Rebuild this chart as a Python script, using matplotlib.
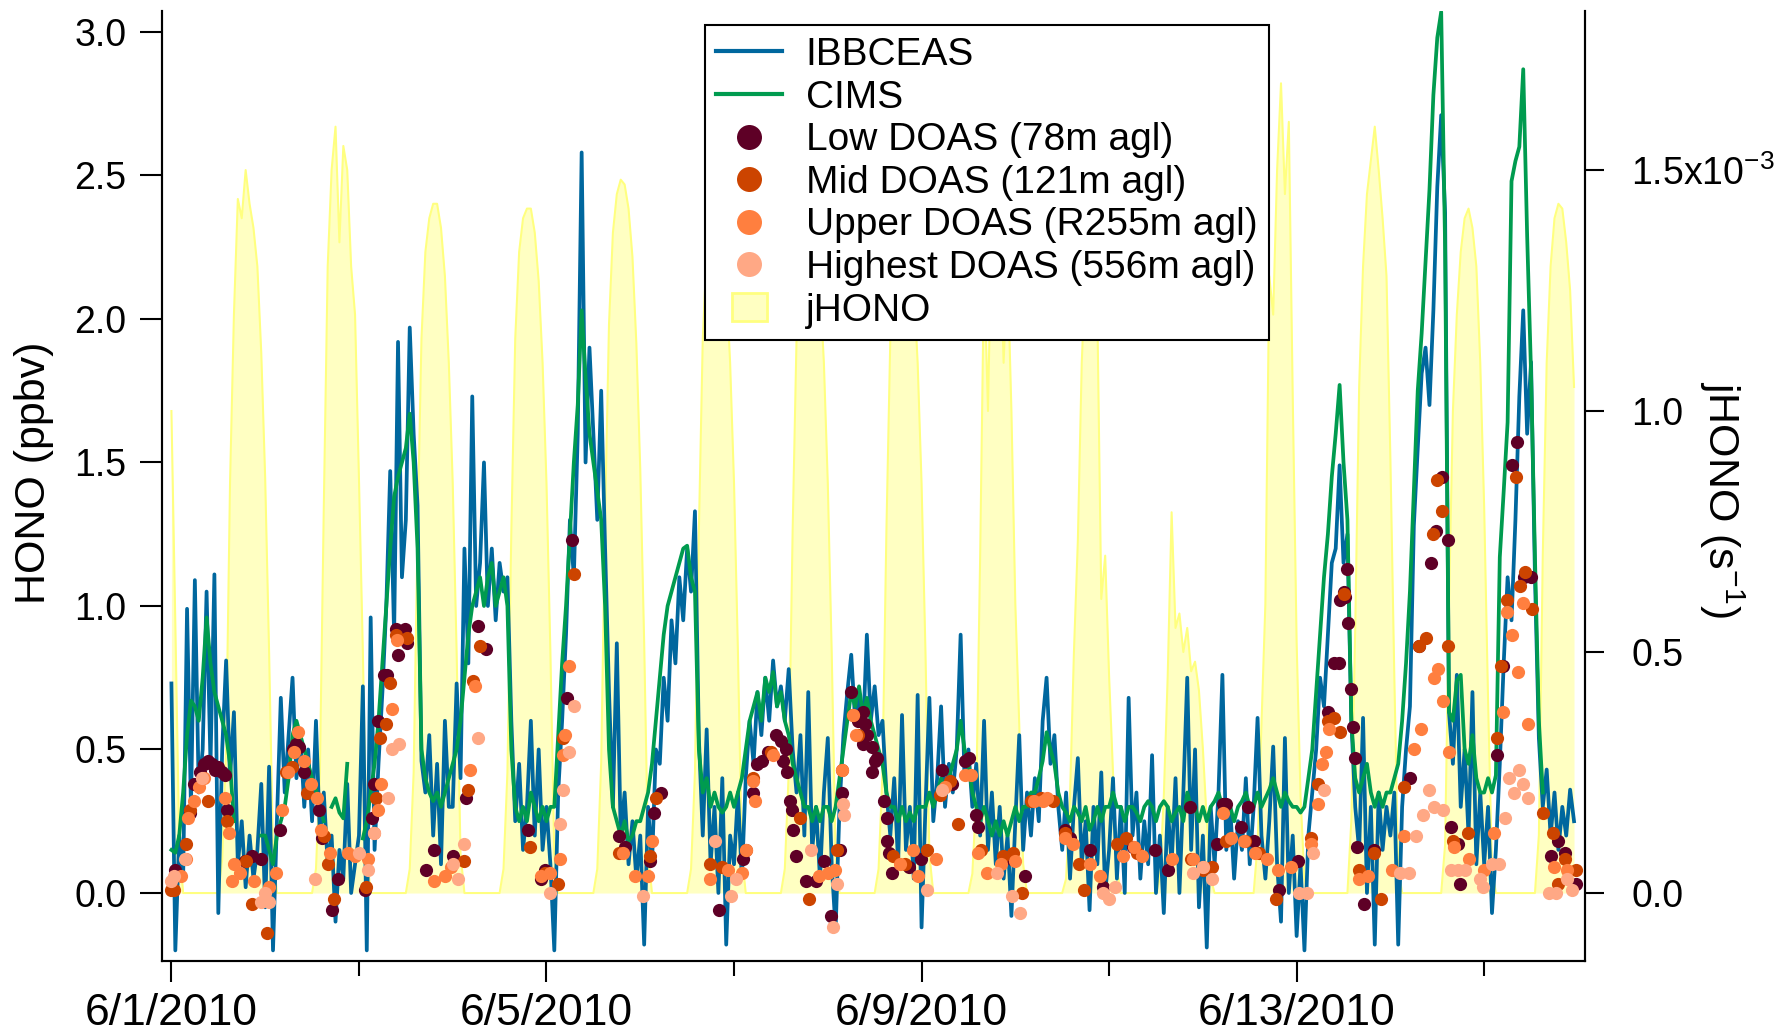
import numpy as np
import matplotlib
matplotlib.use("Agg")
import matplotlib.pyplot as plt
from matplotlib.lines import Line2D
from matplotlib.patches import Patch, Rectangle
from matplotlib.legend_handler import HandlerPatch
from matplotlib.ticker import FormatStrFormatter

plt.rcParams['font.family'] = ['Liberation Sans', 'DejaVu Sans']
plt.rcParams['mathtext.fontset'] = 'custom'
plt.rcParams['mathtext.rm'] = 'Liberation Sans'
plt.rcParams['mathtext.it'] = 'Liberation Sans'

nan = np.nan

# hourly IBBCEAS HONO (ppbv), one row per day starting 6/1/2010 00:00
ibbceas = [
    [0.73, -0.2, 0.2, 0.05, 0.99, 0.3, 1.09, 0.35, 0.5, 1.05, 0.45, 1.11, -0.07, 0.5, 0.81, 0.4, 0.63, 0.1, 0.25, 0.02, 0.2, 0.05, 0.15, 0.38],
    [-0.05, 0.44, -0.2, 0.25, 0.68, 0.35, 0.55, 0.75, 0.4, 0.55, 0.3, 0.5, 0.25, 0.6, 0.2, 0.35, 0.1, 0.2, -0.1, 0.15, 0.05, 0.38, 0.0, 0.1],
    [0.2, 0.72, -0.2, 0.96, 0.15, 0.45, 0.7, 1.0, 1.47, 0.9, 1.92, 1.1, 1.3, 1.97, 1.6, 1.35, 0.46, 0.35, 0.55, 0.2, 0.45, 0.1, 0.6, 0.3],
    [0.3, 0.73, 0.4, 1.2, 0.8, 1.73, 1.0, 1.15, 1.5, 1.0, 1.2, 0.95, 1.15, 1.05, 1.1, 0.6, 0.25, 0.45, 0.15, 0.3, 0.6, 0.2, 0.5, 0.15],
    [0.3, 0.1, -0.2, 0.35, 0.6, 0.9, 1.3, 1.1, 1.6, 2.58, 1.5, 1.9, 1.6, 1.3, 1.75, 1.2, 0.7, 0.3, 0.87, 0.2, 0.35, 0.1, 0.25, 0.05],
    [0.2, -0.18, 0.3, 0.1, 0.5, 0.45, 0.75, 0.6, 0.95, 0.8, 1.1, 0.95, 1.2, 1.05, 1.33, 0.54, 0.2, 0.57, 0.1, 0.3, 0.0, 0.4, -0.18, 0.2],
    [0.1, 0.35, 0.05, 0.4, 0.6, 0.45, 0.7, 0.55, 0.75, 0.6, 0.81, 0.65, 0.72, 0.6, 0.78, 0.5, 0.35, 0.55, 0.2, 0.7, 0.15, 0.3, 0.05, 0.35],
    [0.54, 0.1, -0.13, 0.3, 0.55, 0.7, 0.83, 0.6, 0.7, 0.55, 0.9, 0.6, 0.72, 0.55, 0.6, 0.35, 0.2, 0.4, 0.1, 0.62, 0.15, 0.3, 0.05, 0.69],
    [-0.12, 0.3, 0.68, 0.25, 0.4, 0.65, 0.3, 0.45, 0.35, 0.5, 0.9, 0.4, 0.5, 0.3, 0.45, 0.2, 0.6, 0.15, 0.35, 0.1, 0.3, 0.05, 0.2, -0.08],
    [0.25, 0.55, 0.15, 0.35, 0.2, 0.4, 0.25, 0.6, 0.75, 0.45, 0.55, 0.3, 0.15, 0.35, 0.05, 0.3, 0.47, 0.1, 0.25, -0.06, 0.3, 0.1, 0.42, 0.0],
    [0.15, 0.4, 0.05, 0.3, 0.0, 0.68, 0.2, 0.35, 0.05, 0.25, 0.1, 0.48, 0.0, 0.2, -0.07, 0.3, 0.1, 0.4, 0.0, 0.35, 0.75, 0.15, 0.5, -0.05],
    [0.2, -0.19, 0.3, 0.1, 0.35, 0.76, 0.15, 0.3, 0.05, 0.25, 0.15, 0.4, 0.1, 0.3, 0.61, 0.2, 0.05, 0.25, 0.51, 0.1, -0.1, 0.54, 0.0, 0.2],
    [-0.15, 0.1, -0.2, 0.2, 0.35, 0.5, 0.75, 0.65, 0.9, 1.15, 1.2, 1.49, 1.15, 1.25, 0.6, 0.3, 0.15, 0.61, 0.0, 0.3, -0.18, 0.35, 0.15, 0.3],
    [0.2, 0.35, -0.18, 0.3, 0.5, 0.65, 1.28, 1.55, 1.81, 1.9, 1.7, 2.03, 2.46, 2.71, 2.37, 0.63, 0.45, 0.76, 0.3, 0.5, 0.2, 0.7, 0.1, 0.35],
    [0.1, 0.3, -0.07, 0.15, 0.45, 0.8, 1.1, 0.95, 1.3, 1.73, 2.03, 1.6, 1.85, 1.1, 0.54, 0.3, 0.43, 0.2, 0.35, 0.15, 0.3, 0.2, 0.36, 0.25],
]

# hourly CIMS HONO (ppbv)
cims = [
    [0.15, 0.14, 0.2, 0.35, 0.55, 0.67, 0.65, 0.6, 0.75, 0.96, 0.8, 0.7, 0.65, 0.6, 0.55, 0.45, 0.25, nan, nan, nan, nan, nan, nan, 0.2],
    [0.2, 0.15, 0.1, 0.2, 0.25, 0.3, 0.4, 0.55, 0.6, 0.55, 0.5, 0.45, 0.4, 0.36, 0.3, 0.25, nan, 0.3, 0.33, 0.28, 0.26, 0.45, nan, nan],
    [nan, 0.19, 0.25, 0.35, 0.45, 0.6, 0.8, 1.0, 1.2, 1.38, 1.45, 1.5, 1.55, 1.67, 1.5, 1.2, 0.5, 0.4, 0.35, 0.32, 0.35, 0.3, 0.35, 0.4],
    [0.45, 0.5, 0.6, 0.75, 0.9, 1.0, 1.05, 1.1, 1.0, 1.1, 1.15, 1.0, 1.05, 1.1, 1.0, 0.5, 0.3, 0.25, 0.3, 0.25, 0.35, 0.3, 0.25, 0.3],
    [0.25, 0.3, 0.3, 0.55, 0.8, 1.0, 1.25, 1.5, 1.7, 2.03, 1.8, 1.6, 1.5, 1.4, 1.3, 1.0, 0.5, 0.3, 0.25, 0.2, 0.25, 0.18, 0.2, 0.25],
    [0.25, 0.3, 0.35, 0.45, 0.6, 0.75, 0.9, 1.0, 1.05, 1.1, 1.15, 1.2, 1.21, 1.1, 1.05, 0.5, 0.35, 0.4, 0.3, 0.35, 0.3, 0.28, 0.3, 0.35],
    [0.3, 0.35, 0.4, 0.5, 0.6, 0.65, 0.7, 0.6, 0.75, 0.7, 0.77, 0.65, 0.7, 0.6, 0.55, 0.45, 0.4, 0.35, 0.3, 0.3, 0.25, 0.3, 0.25, 0.3],
    [0.3, 0.25, 0.3, 0.4, 0.5, 0.6, 0.7, 0.65, 0.72, 0.62, 0.68, 0.6, 0.55, 0.5, 0.45, 0.35, 0.3, 0.3, 0.25, 0.3, 0.25, 0.28, 0.25, 0.3],
    [0.3, 0.3, 0.35, 0.3, 0.35, 0.4, 0.35, 0.4, 0.45, 0.5, 0.6, 0.5, 0.45, 0.35, 0.3, 0.25, 0.3, 0.25, 0.2, 0.25, 0.2, 0.25, 0.2, 0.25],
    [0.3, 0.25, 0.3, 0.3, 0.35, 0.35, 0.4, 0.46, 0.56, 0.5, 0.45, 0.35, 0.3, 0.28, 0.25, 0.3, 0.28, 0.25, 0.3, 0.22, 0.25, 0.3, 0.25, 0.3],
    [0.3, 0.35, 0.3, 0.3, 0.25, 0.3, 0.3, 0.28, 0.25, 0.3, 0.32, 0.3, 0.25, 0.3, 0.32, 0.3, 0.25, 0.28, 0.3, 0.25, 0.35, 0.3, 0.3, 0.25],
    [0.3, 0.25, 0.3, 0.32, 0.35, 0.3, 0.28, 0.3, 0.25, 0.3, 0.32, 0.35, 0.3, 0.3, 0.35, 0.3, 0.33, 0.36, 0.4, 0.35, 0.3, 0.35, 0.32, 0.3],
    [0.3, 0.28, 0.3, 0.4, 0.5, 0.7, 0.9, 1.1, 1.25, 1.45, 1.6, 1.77, 1.5, 1.3, 0.6, 0.4, 0.35, 0.4, 0.45, 0.35, 0.3, 0.35, 0.3, 0.35],
    [0.35, 0.4, 0.45, 0.6, 0.8, 1.05, 1.4, 1.75, 1.95, 2.2, 2.45, 2.78, 2.98, 3.07, 2.25, 0.63, 0.6, 0.74, 0.76, 0.5, 0.45, 0.55, 0.4, 0.35],
    [0.35, 0.4, 0.35, 0.41, 1.17, 1.4, 1.64, 2.48, 2.55, 2.6, 2.87, 2.29, 1.81, 1.17, 0.6, 0.35, nan, nan, nan, nan, nan, nan, nan, nan],
]

# hourly jHONO (1e-3 s^-1)
jhono = [
    [1.0, 0.56, 0.1, 0, 0, 0, 0, 0, 0, 0, 0, 0, 0, 0.07, 0.3, 0.85, 1.2, 1.44, 1.4, 1.5, 1.43, 1.38, 1.3, 1.12],
    [0.86, 0.5, 0.09, 0, 0, 0, 0, 0, 0, 0, 0, 0, 0, 0.05, 0.25, 0.8, 1.3, 1.5, 1.59, 1.35, 1.55, 1.5, 1.3, 1.2],
    [0.86, 0.5, 0.08, 0, 0, 0, 0, 0, 0, 0, 0, 0, 0, 0.05, 0.25, 0.75, 1.15, 1.33, 1.4, 1.43, 1.43, 1.38, 1.28, 1.1],
    [0.85, 0.5, 0.08, 0, 0, 0, 0, 0, 0, 0, 0, 0, 0, 0.05, 0.25, 0.75, 1.15, 1.33, 1.4, 1.42, 1.42, 1.37, 1.27, 1.1],
    [0.85, 0.5, 0.08, 0, 0, 0, 0, 0, 0, 0, 0, 0, 0, 0.05, 0.27, 0.78, 1.18, 1.37, 1.45, 1.48, 1.47, 1.42, 1.32, 1.14],
    [0.88, 0.52, 0.08, 0, 0, 0, 0, 0, 0, 0, 0, 0, 0, 0.05, 0.25, 0.75, 1.15, 1.33, 1.4, 1.42, 1.42, 1.37, 1.27, 1.1],
    [0.85, 0.5, 0.08, 0, 0, 0, 0, 0, 0, 0, 0, 0, 0, 0.05, 0.25, 0.75, 1.15, 1.33, 1.4, 1.42, 1.41, 1.36, 1.26, 1.1],
    [0.85, 0.5, 0.08, 0, 0, 0, 0, 0, 0, 0, 0, 0, 0, 0.05, 0.25, 0.75, 1.15, 1.33, 1.4, 1.42, 1.41, 1.36, 1.26, 1.1],
    [0.85, 0.5, 0.08, 0, 0, 0, 0, 0, 0, 0, 0, 0, 0, 0.04, 0.2, 0.7, 1.3, 1.0, 1.42, 1.2, 1.4, 1.1, 1.3, 1.0],
    [0.6, 0.35, 0.06, 0, 0, 0, 0, 0, 0, 0, 0, 0, 0, 0.03, 0.2, 0.5, 0.73, 1.1, 1.3, 1.35, 1.3, 1.2, 0.61, 0.7],
    [0.45, 0.25, 0.05, 0, 0, 0, 0, 0, 0, 0, 0, 0, 0, 0.03, 0.2, 0.45, 0.79, 0.55, 0.58, 0.5, 0.55, 0.46, 0.48, 0.42],
    [0.3, 0.15, 0.03, 0, 0, 0, 0, 0, 0, 0, 0, 0, 0, 0.0, 0.1, 0.35, 0.6, 1.28, 1.2, 1.5, 1.68, 1.45, 1.6, 1.03],
    [0.52, 0.2, 0.03, 0, 0, 0, 0, 0, 0, 0, 0, 0, 0, 0.0, 0.15, 0.55, 1.05, 1.3, 1.45, 1.52, 1.59, 1.5, 1.4, 1.28],
    [0.9, 0.45, 0.05, 0, 0, 0, 0, 0, 0, 0, 0, 0, 0, 0.0, 0.1, 0.6, 1.0, 1.2, 1.33, 1.4, 1.42, 1.38, 1.3, 1.1],
    [0.8, 0.4, 0.05, 0, 0, 0, 0, 0, 0, 0, 0, 0, 0, 0.0, 0.12, 0.7, 1.1, 1.3, 1.4, 1.43, 1.42, 1.35, 1.25, 1.05],
]

# DOAS HONO: (day since 6/1 00:00, ppbv)
low_doas = [
    (0.04, 0.08), (0.2, 0.28), (0.245, 0.38), (0.31, 0.42), (0.35, 0.45), (0.39, 0.46), (0.43, 0.45),
    (0.47, 0.43), (0.5, 0.44), (0.54, 0.42), (0.57, 0.41), (0.59, 0.29), (0.78, 0.11), (0.86, 0.13),
    (0.96, 0.12), (1.16, 0.22), (1.3, 0.5), (1.33, 0.52), (1.36, 0.51), (1.41, 0.42), (1.57, 0.29),
    (1.61, 0.19), (1.71, -0.06), (1.78, 0.05), (2.06, 0.01), (2.14, 0.26), (2.16, 0.38), (2.2, 0.6),
    (2.27, 0.76), (2.3, 0.76), (2.39, 0.92), (2.42, 0.83), (2.45, 0.91), (2.49, 0.92), (2.51, 0.87),
    (2.71, 0.08), (2.8, 0.15), (3.0, 0.13), (3.14, 0.33), (3.27, 0.93), (3.35, 0.85), (3.8, 0.22),
    (3.94, 0.05), (3.98, 0.08), (4.22, 0.68), (4.27, 1.23), (4.77, 0.2), (4.84, 0.16), (5.1, 0.11),
    (5.15, 0.28), (5.22, 0.35), (5.84, -0.06), (6.1, 0.12), (6.2, 0.35), (6.25, 0.45), (6.3, 0.46),
    (6.36, 0.49), (6.45, 0.55), (6.5, 0.53), (6.55, 0.5), (6.52, 0.46), (6.56, 0.42), (6.6, 0.32),
    (6.62, 0.29), (6.63, 0.22), (6.66, 0.13), (6.77, 0.04), (6.87, 0.04), (6.96, 0.11), (7.03, -0.08),
    (7.13, 0.15), (7.15, 0.35), (7.25, 0.7), (7.32, 0.6), (7.38, 0.63), (7.4, 0.59), (7.42, 0.55),
    (7.38, 0.52), (7.47, 0.51), (7.5, 0.46), (7.52, 0.47), (7.47, 0.42), (7.6, 0.32), (7.63, 0.26),
    (7.63, 0.18), (7.65, 0.14), (7.68, 0.07), (7.87, 0.09), (7.99, 0.12), (8.22, 0.43), (8.32, 0.38),
    (8.46, 0.46), (8.51, 0.47), (8.58, 0.27), (8.6, 0.23), (8.96, 0.12), (9.1, 0.06), (9.53, 0.22),
    (9.58, 0.19), (9.8, 0.15), (9.94, 0.02), (10.25, 0.16), (10.49, 0.15), (10.63, 0.08), (10.86, 0.3),
    (11.15, 0.17), (11.22, 0.31), (11.25, 0.31), (11.41, 0.23), (11.48, 0.3), (11.54, 0.18), (11.81, 0.01),
    (12.01, 0.11), (12.33, 0.63), (12.4, 0.8), (12.45, 0.8), (12.46, 1.02), (12.5, 1.05), (12.52, 1.03),
    (12.54, 1.13), (12.55, 0.94), (12.58, 0.71), (12.6, 0.58), (12.62, 0.47), (12.64, 0.16), (12.72, -0.04),
    (12.82, 0.15), (13.21, 0.4), (13.31, 0.86), (13.43, 1.15), (13.49, 1.26), (13.55, 1.45), (13.61, 1.23),
    (13.65, 0.23), (13.72, 0.17), (13.74, 0.03), (14.14, 0.48), (14.2, 0.79), (14.3, 1.49), (14.35, 1.57),
    (14.42, 1.1), (14.5, 1.1), (14.71, 0.13), (14.79, 0.18), (14.86, 0.14), (14.98, 0.03),
]

mid_doas = [
    (0.0, 0.01), (0.03, 0.01), (0.16, 0.17), (0.2, 0.29), (0.39, 0.32), (0.59, 0.25), (0.8, 0.11),
    (0.86, -0.04), (1.02, -0.14), (1.22, 0.42), (1.29, 0.44), (1.45, 0.35), (1.63, 0.2), (1.67, 0.1),
    (1.73, -0.02), (2.08, 0.02), (2.18, 0.33), (2.22, 0.54), (2.29, 0.59), (2.33, 0.73), (2.39, 0.9),
    (2.51, 0.89), (3.12, 0.11), (3.16, 0.36), (3.22, 0.74), (3.29, 0.86), (3.82, 0.16), (3.98, 0.07),
    (4.12, 0.03), (4.18, 0.54), (4.29, 1.11), (4.77, 0.14), (5.1, 0.13), (5.17, 0.33), (5.74, 0.1),
    (5.87, 0.09), (6.13, 0.15), (6.2, 0.4), (6.39, 0.49), (6.7, 0.26), (6.8, -0.02), (7.1, 0.15),
    (7.15, 0.43), (7.27, 0.62), (7.32, 0.55), (7.7, 0.13), (7.82, 0.1), (8.06, 0.15), (8.2, 0.34),
    (8.3, 0.39), (8.39, 0.24), (8.63, 0.15), (8.87, 0.13), (8.97, 0.14), (9.07, 0.0), (9.17, 0.32),
    (9.27, 0.33), (9.4, 0.32), (9.53, 0.21), (9.68, 0.1), (9.73, 0.01), (10.08, 0.17), (10.18, 0.19),
    (10.3, 0.14), (10.87, 0.12), (11.0, 0.08), (11.1, 0.09), (11.25, 0.18), (11.45, 0.18), (11.6, 0.14),
    (11.78, -0.02), (12.15, 0.19), (12.23, 0.38), (12.33, 0.6), (12.4, 0.61), (12.46, 0.56), (12.5, 1.04),
    (12.66, 0.08), (12.82, 0.14), (12.9, -0.02), (13.15, 0.37), (13.3, 0.86), (13.38, 0.89), (13.45, 1.25),
    (13.5, 1.44), (13.55, 1.33), (13.61, 0.86), (13.67, 0.18), (13.83, 0.21), (14.14, 0.54), (14.18, 0.79),
    (14.24, 1.02), (14.34, 1.45), (14.38, 1.07), (14.44, 1.12), (14.51, 0.99), (14.63, 0.28), (14.73, 0.21),
    (14.79, 0.03), (14.86, 0.12), (14.98, 0.08),
]

upper_doas = [
    (0.1, 0.06), (0.16, 0.12), (0.18, 0.26), (0.24, 0.32), (0.29, 0.37), (0.35, 0.4), (0.57, 0.33),
    (0.61, 0.21), (0.65, 0.04), (0.67, 0.1), (0.73, 0.07), (0.88, 0.04), (1.04, 0.02), (1.12, 0.07),
    (1.18, 0.29), (1.24, 0.42), (1.31, 0.49), (1.35, 0.56), (1.41, 0.46), (1.49, 0.38), (1.55, 0.33),
    (1.59, 0.22), (1.69, 0.14), (1.88, 0.14), (1.96, 0.13), (2.1, 0.12), (2.16, 0.21), (2.2, 0.29),
    (2.24, 0.38), (2.35, 0.64), (2.41, 0.88), (2.8, 0.04), (2.92, 0.06), (2.98, 0.09), (3.18, 0.43),
    (3.24, 0.72), (3.94, 0.06), (4.04, 0.07), (4.14, 0.12), (4.18, 0.48), (4.2, 0.55), (4.24, 0.79),
    (4.82, 0.14), (4.94, 0.06), (5.08, 0.06), (5.13, 0.18), (5.74, 0.05), (5.94, 0.08), (6.08, 0.07),
    (6.13, 0.15), (6.2, 0.39), (6.22, 0.32), (6.42, 0.48), (6.91, 0.06), (7.0, 0.07), (7.08, 0.08),
    (7.15, 0.43), (7.27, 0.62), (7.3, 0.55), (7.77, 0.1), (7.91, 0.15), (7.96, 0.06), (8.15, 0.12),
    (8.25, 0.37), (8.46, 0.41), (8.53, 0.41), (8.6, 0.14), (8.7, 0.07), (8.85, 0.1), (9.0, 0.11),
    (9.2, 0.32), (9.3, 0.32), (9.34, 0.33), (9.53, 0.19), (9.62, 0.17), (9.8, 0.1), (9.9, 0.06),
    (10.15, 0.13), (10.27, 0.16), (10.35, 0.13), (10.67, 0.12), (10.9, 0.12), (11.0, 0.09), (11.22, 0.28),
    (11.3, 0.19), (11.44, 0.18), (11.56, 0.14), (11.68, 0.12), (11.8, 0.08), (11.94, 0.09), (12.15, 0.17),
    (12.23, 0.31), (12.27, 0.45), (12.31, 0.49), (12.35, 0.57), (12.66, 0.05), (12.76, 0.06), (13.02, 0.08),
    (13.15, 0.2), (13.25, 0.5), (13.33, 0.57), (13.47, 0.75), (13.51, 0.78), (13.56, 0.67), (13.62, 0.49),
    (13.68, 0.16), (13.84, 0.12), (14.0, 0.08), (14.11, 0.21), (14.2, 0.63), (14.24, 0.98), (14.3, 0.9),
    (14.36, 0.77), (14.41, 1.01), (14.47, 0.59), (14.74, 0.09), (14.88, 0.08),
]

highest_doas = [
    (0.0, 0.04), (0.03, 0.06), (0.14, 0.12), (0.33, 0.4), (0.96, -0.03), (1.0, 0.0), (1.04, -0.03),
    (1.53, 0.05), (2.0, 0.14), (2.1, 0.08), (2.16, 0.21), (2.31, 0.33), (2.35, 0.5), (2.43, 0.52),
    (3.0, 0.1), (3.06, 0.05), (3.12, 0.17), (3.27, 0.54), (4.04, 0.0), (4.14, 0.24), (4.18, 0.36),
    (4.24, 0.49), (4.29, 0.65), (5.03, -0.01), (5.8, 0.18), (5.97, -0.01), (6.02, 0.05), (6.82, 0.15),
    (7.06, -0.12), (7.1, 0.03), (7.16, 0.31), (7.17, 0.27), (8.06, 0.01), (8.22, 0.36), (8.8, 0.07),
    (8.96, -0.01), (9.05, -0.07), (9.94, 0.0), (10.0, -0.02), (10.06, 0.02), (10.9, 0.07), (11.0, 0.09),
    (11.1, 0.05), (12.03, 0.0), (12.11, 0.0), (12.17, 0.14), (12.29, 0.36), (13.1, 0.07), (13.2, 0.07),
    (13.27, 0.2), (13.35, 0.27), (13.41, 0.36), (13.47, 0.3), (13.56, 0.29), (13.65, 0.08), (13.72, 0.08),
    (13.8, 0.08), (13.96, 0.05), (13.99, 0.02), (14.08, 0.1), (14.16, 0.1), (14.22, 0.26), (14.26, 0.4),
    (14.32, 0.35), (14.37, 0.43), (14.41, 0.38), (14.47, 0.33), (14.69, 0.0), (14.77, 0.0), (14.88, 0.05),
    (14.94, 0.01),
]

date_ticks = [0, 4, 8, 12]
date_labels = ['6/1/2010', '6/5/2010', '6/9/2010', '6/13/2010']
minor_date_ticks = [2, 6, 10, 14]

c_ibb = '#00679E'
c_cims = '#009B4F'
c_low = '#5E0026'
c_mid = '#CC4400'
c_up = '#FF7F3F'
c_hi = '#FFA885'
c_jfill = '#FFFFC2'
c_jline = '#FFFF80'

hours = np.arange(24 * len(ibbceas)) / 24.0
ibb = np.concatenate(ibbceas)
cim = np.concatenate(cims)
jh = np.concatenate(jhono)

fig = plt.figure(figsize=(17.77, 10.36), dpi=100)
ax = fig.add_axes([0.0914, 0.0724, 0.8008, 0.917])
ax2 = ax.twinx()

# photolysis rate behind the HONO traces
ax2.fill_between(hours, 0, jh, color=c_jfill, lw=0)
ax2.plot(hours, jh, color=c_jline, lw=1.5)
ax.set_zorder(ax2.get_zorder() + 1)
ax.patch.set_visible(False)

ax.plot(hours, ibb, color=c_ibb, lw=2.7)
ax.plot(hours, cim, color=c_cims, lw=2.7)
for data, col in [(low_doas, c_low), (mid_doas, c_mid), (upper_doas, c_up), (highest_doas, c_hi)]:
    t, v = zip(*data)
    ax.plot(t, v, 'o', color=col, ms=9.5, mec='none')

ax.set_xlim(-0.096, 15.08)
ax.set_ylim(-0.237, 3.073)
ax2.set_ylim(-0.141, 1.830)

ax.set_xticks(date_ticks)
ax.set_xticklabels(date_labels)
ax.set_xticks(minor_date_ticks, minor=True)
ax.set_yticks([0, 0.5, 1.0, 1.5, 2.0, 2.5, 3.0])
ax.yaxis.set_major_formatter(FormatStrFormatter('%.1f'))
ax2.set_yticks([0, 0.5, 1.0, 1.5])
ax2.set_yticklabels(['0.0', '0.5', '1.0', r'1.5x10$^{-3}$'])

for a in (ax, ax2):
    a.spines['top'].set_visible(False)
    for s in ('left', 'right', 'bottom'):
        a.spines[s].set_linewidth(1.5)
ax.tick_params(axis='x', which='major', length=15, width=1.5, labelsize=32, pad=8)
ax.tick_params(axis='x', which='minor', length=11, width=1.5)
ax.tick_params(axis='y', length=16, width=1.5, labelsize=27, pad=10)
ax2.tick_params(axis='y', length=14, width=1.5, labelsize=27, pad=19)

fig.text(0.019, 0.544, 'HONO (ppbv)', fontsize=31, rotation=90, ha='center', va='center')
fig.text(0.969, 0.518, r'jHONO (s$^{-1}$)', fontsize=31, rotation=270, ha='center', va='center')


def small_box(legend, orig_handle, xdescent, ydescent, width, height, fontsize):
    w, h = 0.52 * width, 1.0 * height
    return Rectangle((-xdescent + (width - w) / 2, -ydescent + (height - h) / 2), w, h)


handles = [
    Line2D([], [], color=c_ibb, lw=3),
    Line2D([], [], color=c_cims, lw=3),
    Line2D([], [], marker='o', ls='none', color=c_low, ms=18, mec='none'),
    Line2D([], [], marker='o', ls='none', color=c_mid, ms=18, mec='none'),
    Line2D([], [], marker='o', ls='none', color=c_up, ms=18, mec='none'),
    Line2D([], [], marker='o', ls='none', color=c_hi, ms=18, mec='none'),
    Patch(facecolor=c_jfill, edgecolor=c_jline, lw=2),
]
labels = ['IBBCEAS', 'CIMS', 'Low DOAS (78m agl)', 'Mid DOAS (121m agl)',
          'Upper DOAS (R255m agl)', 'Highest DOAS (556m agl)', 'jHONO']
leg = ax.legend(handles, labels, loc='upper left', bbox_to_anchor=(0.381, 0.985),
                fontsize=28, frameon=True, fancybox=False, framealpha=1,
                edgecolor='black', borderpad=0.3, labelspacing=0.17,
                handlelength=1.7, handletextpad=0.6, borderaxespad=0,
                handler_map={Patch: HandlerPatch(patch_func=small_box)})
leg.get_frame().set_linewidth(1.5)

fig.savefig('out.png', dpi=100)
